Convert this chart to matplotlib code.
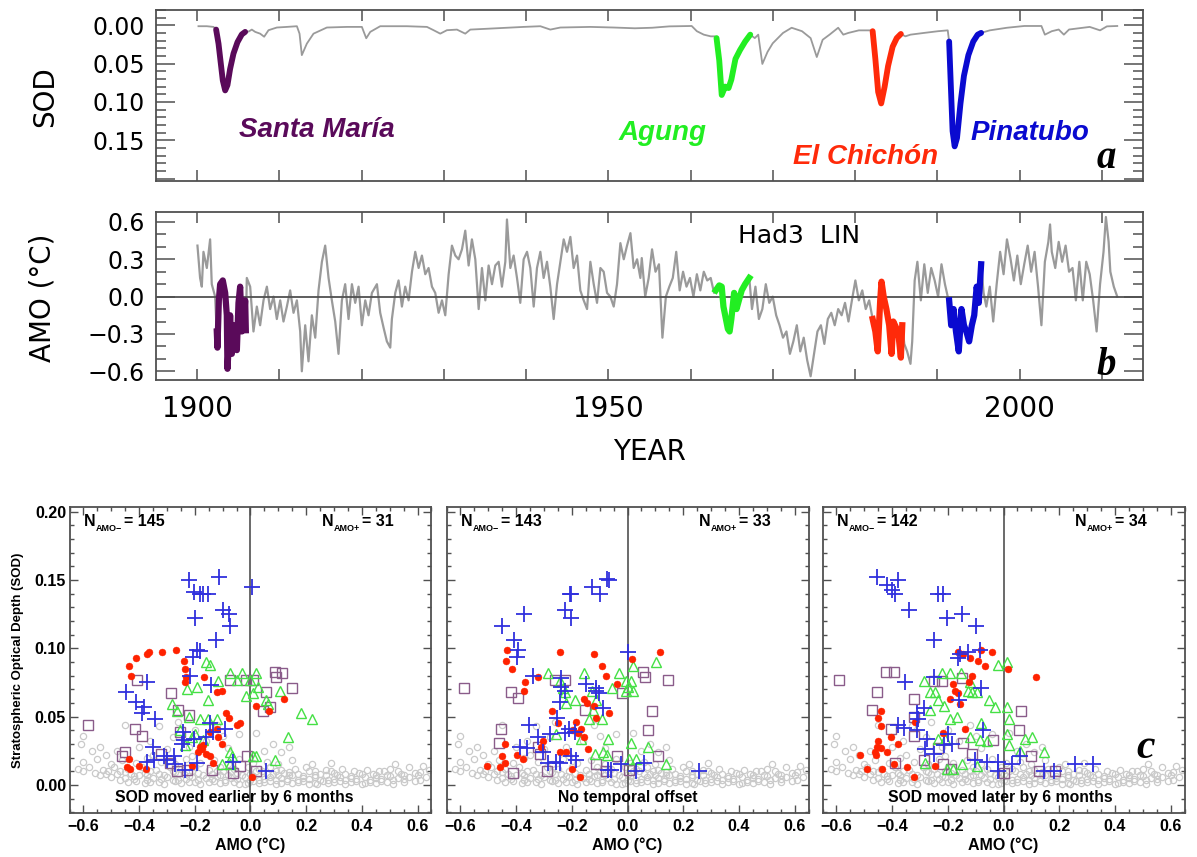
import matplotlib
matplotlib.use('Agg')
import matplotlib.pyplot as plt
import numpy as np
from matplotlib.ticker import MultipleLocator, FuncFormatter
from matplotlib.transforms import offset_copy

# ---------------- data: panel a (SOD) ----------------
sod_gray = [(1900.16, 0.0013), (1901.18, 0.0013), (1901.99, 0.0022),
            (1906.25, 0.0083), (1906.65, 0.0057), (1907.06, 0.0087), (1907.66, 0.011), (1908.15, 0.015),
            (1908.68, 0.0065), (1909.69, 0.003), (1910.91, 0.0022), (1912.13, 0.0013), (1912.45, 0.011),
            (1912.73, 0.039), (1913.34, 0.024), (1914.15, 0.011), (1915.77, 0.003), (1918.21, 0.0022),
            (1920.03, 0.0022), (1920.56, 0.017), (1921.05, 0.0087), (1922.26, 0.0013), (1925.51, 0.0013),
            (1927.94, 0.0022), (1928.75, 0.0065), (1929.56, 0.011), (1930.37, 0.0065), (1931.59, 0.0057),
            (1932.60, 0.011), (1933.21, 0.0057), (1935.64, 0.0044), (1939.70, 0.0022), (1941.73, 0.0013),
            (1942.94, 0.0057), (1944.16, 0.003), (1947.81, 0.0022), (1950.65, 0.003), (1953.22, 0.004),
            (1955.31, 0.0033), (1957.41, 0.0015), (1960.13, 0.001), (1960.76, 0.0078), (1961.60, 0.0123),
            (1962.44, 0.0145), (1962.94, 0.0145),
            (1967.80, 0.0168), (1968.22, 0.0123), (1968.72, 0.0505), (1969.35, 0.0348), (1969.98, 0.0236),
            (1971.23, 0.0101), (1972.28, 0.0033), (1973.54, 0.0078), (1974.59, 0.0168), (1975.34, 0.0415),
            (1976.05, 0.019), (1976.89, 0.0123), (1977.94, 0.0033), (1978.56, 0.0123), (1979.19, 0.010),
            (1980.45, 0.0067), (1981.92, 0.0067),
            (1986.11, 0.0145), (1986.73, 0.0123), (1988.41, 0.010), (1990.09, 0.0078), (1991.26, 0.0067),
            (1996.37, 0.0067), (1998.46, 0.0033), (2000.56, 0.001), (2002.65, 0.001), (2003.07, 0.0123),
            (2003.91, 0.0078), (2004.75, 0.0056), (2005.38, 0.0123), (2006.01, 0.0056), (2008.52, 0.0022),
            (2009.78, 0.0067), (2010.61, 0.0015), (2011.87, 0.001)]

sod_santa = [(1902.31, 0.0057), (1902.60, 0.024), (1902.88, 0.050), (1903.12, 0.072), (1903.41, 0.085),
             (1903.69, 0.078), (1904.01, 0.057), (1904.42, 0.037), (1904.91, 0.022), (1905.43, 0.012),
             (1905.84, 0.0087)]
sod_agung = [(1963.15, 0.0168), (1963.48, 0.046), (1963.78, 0.091), (1964.20, 0.080), (1964.61, 0.082),
             (1964.95, 0.071), (1965.45, 0.044), (1966.00, 0.0325), (1966.63, 0.0213), (1967.25, 0.0123)]
sod_chichon = [(1982.13, 0.0078), (1982.46, 0.044), (1982.80, 0.087), (1983.17, 0.102), (1983.59, 0.080),
               (1984.01, 0.053), (1984.56, 0.028), (1985.06, 0.0168), (1985.56, 0.0114)]
sod_pinatubo = [(1991.43, 0.0213), (1991.64, 0.080), (1991.85, 0.138), (1992.10, 0.158), (1992.39, 0.147),
                (1992.81, 0.102), (1993.23, 0.066), (1993.77, 0.039), (1994.36, 0.0213), (1994.90, 0.0123),
                (1995.32, 0.010)]

# ---------------- data: panel b (AMO) ----------------
amo_gray = [(1900.04, 0.41), (1900.36, 0.15), (1900.57, 0.08), (1900.77, 0.36), (1901.18, 0.23), (1901.58, 0.46),
            (1901.78, 0.10), (1902.19, 0.00),
            (1906.04, 0.15), (1906.45, 0.08), (1906.85, -0.28), (1907.26, -0.08), (1907.66, -0.23), (1908.07, -0.03),
            (1908.48, 0.08), (1908.88, -0.10), (1909.29, 0.00), (1909.69, -0.18), (1910.10, -0.03), (1910.50, -0.20),
            (1910.91, -0.08), (1911.31, 0.05), (1911.72, -0.13), (1912.13, -0.03), (1912.53, -0.28), (1912.73, -0.60),
            (1913.14, -0.23), (1913.54, -0.52), (1913.95, -0.15), (1914.36, -0.33), (1914.76, 0.05), (1915.17, 0.28),
            (1915.57, 0.41), (1915.98, 0.15), (1916.38, -0.03), (1916.79, -0.20), (1917.19, -0.46), (1917.60, -0.03),
            (1918.00, 0.10), (1918.41, -0.18), (1918.82, 0.10), (1919.22, -0.05), (1919.63, 0.08), (1920.03, -0.23),
            (1920.44, -0.03), (1920.84, -0.15), (1921.25, 0.03), (1921.86, 0.10), (1922.26, -0.13), (1922.67, -0.25),
            (1923.07, -0.36), (1923.48, -0.41), (1923.68, -0.18), (1924.09, 0.03), (1924.49, 0.13), (1924.90, -0.08),
            (1925.30, 0.08), (1925.71, -0.03), (1926.12, 0.20), (1926.52, 0.36), (1926.93, 0.23), (1927.33, 0.33),
            (1927.74, 0.18), (1928.14, 0.23), (1928.55, 0.08), (1928.95, 0.03), (1929.36, -0.13), (1929.77, -0.03),
            (1930.17, -0.15), (1930.58, 0.18), (1930.98, 0.41), (1931.39, 0.33), (1931.79, 0.30), (1932.20, 0.38),
            (1932.60, 0.53), (1933.01, 0.25), (1933.41, 0.46), (1933.82, 0.30), (1934.23, -0.10), (1934.63, 0.23),
            (1935.04, -0.03), (1935.44, 0.25), (1935.85, 0.10), (1936.25, 0.25), (1936.66, 0.28), (1937.06, 0.08),
            (1937.47, 0.28), (1937.67, 0.62), (1938.08, 0.23), (1938.48, 0.33), (1938.89, 0.15), (1939.29, -0.05),
            (1939.70, 0.30), (1940.11, 0.36), (1940.51, 0.23), (1940.92, -0.08), (1941.32, 0.23), (1941.73, 0.36),
            (1942.13, 0.15), (1942.54, 0.28), (1942.94, 0.08), (1943.35, -0.18), (1943.76, 0.10), (1944.16, 0.28),
            (1944.57, 0.46), (1944.97, 0.36), (1945.38, 0.48), (1945.78, 0.23), (1946.19, 0.33), (1946.59, 0.05),
            (1947.00, -0.03), (1947.41, -0.10), (1947.81, 0.28), (1948.22, 0.10), (1948.62, -0.05), (1949.03, 0.23),
            (1949.43, 0.20), (1949.84, 0.03), (1950.24, 0.00), (1950.65, -0.08), (1951.05, 0.10), (1951.46, 0.43),
            (1951.87, 0.30), (1952.27, 0.41), (1952.68, 0.51), (1953.08, 0.23), (1953.49, 0.30), (1953.89, 0.15),
            (1954.06, 0.31), (1954.48, 0.00), (1954.90, 0.15), (1955.31, 0.38), (1955.73, 0.20), (1956.15, 0.26),
            (1956.57, -0.33), (1956.99, 0.00), (1957.41, 0.08), (1957.83, 0.15), (1958.25, 0.36), (1958.67, 0.05),
            (1959.08, 0.20), (1959.50, 0.08), (1959.92, 0.15), (1960.34, 0.00), (1960.76, 0.18), (1961.18, 0.05),
            (1961.60, 0.20), (1962.02, 0.13), (1962.44, 0.15), (1962.85, 0.03),
            (1967.46, -0.10), (1967.88, 0.08), (1968.30, -0.18), (1968.72, -0.10), (1969.14, 0.10), (1969.56, -0.05),
            (1969.98, 0.00), (1970.40, -0.15), (1970.81, -0.23), (1971.23, -0.33), (1971.65, -0.28), (1972.07, -0.46),
            (1972.49, -0.36), (1972.91, -0.23), (1973.33, -0.44), (1973.75, -0.33), (1974.17, -0.51), (1974.59, -0.64),
            (1975.00, -0.46), (1975.42, -0.28), (1975.84, -0.23), (1976.26, -0.38), (1976.68, -0.18), (1977.10, -0.13),
            (1977.52, -0.23), (1977.94, -0.10), (1978.36, -0.15), (1978.77, -0.05), (1979.19, -0.20), (1979.61, -0.03),
            (1980.03, 0.13), (1980.45, -0.03), (1980.87, 0.05), (1981.29, -0.10), (1981.71, -0.03),
            (1985.98, -0.38), (1986.32, -0.44), (1986.73, -0.54), (1986.94, -0.36), (1987.24, 0.13), (1987.57, 0.28),
            (1987.99, -0.03), (1988.41, 0.26), (1988.83, 0.03), (1989.25, 0.23), (1989.67, 0.13), (1990.09, 0.00),
            (1990.50, 0.26), (1990.92, 0.10), (1991.26, 0.00),
            (1995.62, 0.03), (1995.95, -0.08), (1996.37, 0.08), (1996.79, -0.20), (1997.21, 0.10), (1997.63, 0.36),
            (1998.05, 0.18), (1998.46, 0.46), (1998.88, 0.31), (1999.30, 0.13), (1999.72, 0.33), (2000.14, 0.10),
            (2000.56, 0.26), (2000.98, 0.41), (2001.40, 0.20), (2001.82, 0.36), (2002.24, 0.08), (2002.65, -0.23),
            (2003.07, 0.28), (2003.49, 0.44), (2003.70, 0.58), (2003.91, 0.36), (2004.33, 0.23), (2004.75, 0.44),
            (2005.17, 0.28), (2005.59, 0.41), (2006.01, 0.20), (2006.43, 0.23), (2006.84, -0.03), (2007.26, 0.28),
            (2007.68, -0.03), (2008.10, 0.28), (2008.52, 0.18), (2008.94, -0.03), (2009.36, -0.28), (2009.78, 0.10),
            (2010.20, 0.36), (2010.49, 0.64), (2010.82, 0.44), (2011.03, 0.20), (2011.45, 0.08), (2011.87, 0.00)]

amo_santa = [(1902.39, -0.28), (1902.47, -0.41), (1902.64, -0.03), (1902.80, 0.10), (1903.12, 0.13), (1903.41, 0.03),
             (1903.61, -0.15), (1903.69, -0.58), (1903.89, -0.33), (1904.01, -0.15), (1904.22, -0.46), (1904.42, -0.23),
             (1904.62, -0.28), (1904.83, -0.43), (1905.03, -0.05), (1905.23, 0.08), (1905.43, -0.28), (1905.64, -0.25),
             (1905.84, -0.03), (1905.92, -0.27)]
amo_agung = [(1963.06, 0.05), (1963.48, 0.09), (1963.78, 0.08), (1963.99, -0.08), (1964.20, -0.15), (1964.53, -0.26),
             (1964.74, -0.28), (1964.95, -0.18), (1965.29, 0.03), (1965.58, -0.10), (1965.87, -0.03), (1966.21, 0.05),
             (1966.63, 0.10), (1967.13, 0.15)]
amo_chichon = [(1982.13, -0.18), (1982.46, -0.28), (1982.75, -0.44), (1983.05, -0.03), (1983.21, 0.12), (1983.47, 0.00),
               (1983.80, -0.10), (1984.14, -0.23), (1984.43, -0.46), (1984.64, -0.20), (1985.06, -0.26), (1985.31, -0.33),
               (1985.56, -0.49), (1985.73, -0.23)]
amo_pinatubo = [(1991.43, -0.03), (1991.68, -0.23), (1991.97, -0.10), (1992.26, -0.28), (1992.60, -0.44), (1992.93, -0.10),
                (1993.23, -0.23), (1993.52, -0.28), (1993.86, -0.36), (1994.19, -0.23), (1994.48, -0.15), (1994.78, 0.08),
                (1995.03, -0.05), (1995.32, 0.26)]

volcano_names = ['Santa María', 'Agung', 'El Chichón', 'Pinatubo']
volcano_colors = ['#5a0a5a', '#22ee22', '#ff2a0a', '#0a0ad0']

# ---------------- data: panel c (scatter AMO vs SOD) ----------------
bg_pts = [(-0.41, 0.003), (-0.36, 0.002), (-0.31, 0.001), (-0.27, 0.003), (-0.22, 0.002), (-0.18, 0.001), (-0.13, 0.003),
          (-0.09, 0.002), (-0.04, 0.001), (0.01, 0.003), (0.05, 0.002), (0.09, 0.001), (0.13, 0.003), (0.17, 0.002),
          (0.21, 0.001), (0.26, 0.003), (0.30, 0.002), (0.34, 0.001), (0.38, 0.003), (0.43, 0.002), (0.47, 0.003),
          (0.51, 0.001), (-0.02, 0.0005), (0.24, 0.0008), (0.40, 0.0006),
          (-0.44, 0.002), (-0.38, 0.0015), (-0.33, 0.0025), (-0.25, 0.0015), (-0.20, 0.0025), (-0.15, 0.002),
          (-0.11, 0.0012), (-0.06, 0.0025), (-0.01, 0.0018), (0.03, 0.0012), (0.07, 0.0028), (0.11, 0.0018),
          (0.15, 0.0012), (0.19, 0.0028), (0.23, 0.0018), (0.28, 0.0012), (0.32, 0.0028), (0.36, 0.0022),
          (0.41, 0.0013), (0.45, 0.0017), (0.49, 0.0024), (0.55, 0.0022), (0.59, 0.0028),
          (-0.47, 0.004), (-0.42, 0.0045), (-0.37, 0.0038), (-0.32, 0.0042), (-0.28, 0.0036), (-0.23, 0.0045),
          (-0.19, 0.0038), (-0.14, 0.0043), (-0.09, 0.0037), (-0.05, 0.0044), (0.00, 0.0039), (0.05, 0.0045),
          (0.09, 0.0037), (0.13, 0.0044), (0.17, 0.0038), (0.21, 0.0043), (0.25, 0.0036), (0.30, 0.0044),
          (0.34, 0.0039), (0.38, 0.0045), (0.43, 0.0038), (0.47, 0.0043), (0.51, 0.0037), (0.55, 0.0044), (0.63, 0.006),
          (-0.50, 0.006), (-0.45, 0.005), (-0.40, 0.007), (-0.35, 0.005), (-0.30, 0.006), (-0.26, 0.004), (-0.21, 0.006),
          (-0.16, 0.005), (-0.11, 0.007), (-0.07, 0.005), (-0.02, 0.006), (0.03, 0.004), (0.07, 0.006), (0.11, 0.005),
          (0.15, 0.007), (0.19, 0.005), (0.23, 0.006), (0.28, 0.004), (0.32, 0.006), (0.36, 0.005), (0.41, 0.006),
          (0.45, 0.005), (0.49, 0.007), (0.53, 0.005), (0.57, 0.006), (0.61, 0.004),
          (-0.54, 0.0072), (-0.48, 0.0078), (-0.42, 0.0068), (-0.37, 0.0075), (-0.31, 0.0071), (-0.26, 0.0077),
          (-0.22, 0.0069), (-0.17, 0.0074), (-0.12, 0.0068), (-0.08, 0.0076), (-0.03, 0.0071), (0.01, 0.0066),
          (0.06, 0.0077), (0.10, 0.007), (0.14, 0.0075), (0.19, 0.0068), (0.23, 0.0076), (0.27, 0.007),
          (0.31, 0.0074), (0.36, 0.0068), (0.40, 0.0077), (0.45, 0.0071), (0.50, 0.0066), (0.55, 0.0074), (0.60, 0.007),
          (-0.56, 0.009), (-0.52, 0.008), (-0.47, 0.010), (-0.43, 0.008), (-0.38, 0.009), (-0.33, 0.008), (-0.28, 0.010),
          (-0.24, 0.008), (-0.19, 0.009), (-0.14, 0.008), (-0.10, 0.010), (-0.05, 0.009), (0.00, 0.008), (0.04, 0.010),
          (0.08, 0.008), (0.12, 0.009), (0.17, 0.008), (0.21, 0.010), (0.25, 0.008), (0.30, 0.009), (0.34, 0.008),
          (0.39, 0.009), (0.44, 0.008), (0.48, 0.010), (0.54, 0.008), (0.59, 0.009), (0.64, 0.011),
          (-0.60, 0.010), (-0.51, 0.0105), (-0.45, 0.0098), (-0.36, 0.0102), (-0.27, 0.0098), (-0.21, 0.0104),
          (-0.12, 0.0099), (-0.07, 0.0104), (0.02, 0.0101), (0.09, 0.0104), (0.14, 0.0098), (0.23, 0.0104),
          (0.29, 0.0099), (0.37, 0.0103), (0.46, 0.0099), (0.53, 0.0103), (0.61, 0.0098),
          (-0.62, 0.012), (-0.58, 0.013), (-0.53, 0.011), (-0.49, 0.013), (-0.44, 0.012), (-0.39, 0.013), (-0.34, 0.011),
          (-0.29, 0.013), (-0.25, 0.012), (-0.20, 0.013), (-0.15, 0.011), (-0.11, 0.013), (-0.06, 0.012), (-0.01, 0.013),
          (0.03, 0.012), (0.07, 0.013), (0.11, 0.011), (0.16, 0.012), (0.20, 0.013), (0.27, 0.011), (0.33, 0.012),
          (0.42, 0.011), (0.50, 0.012), (0.57, 0.013), (0.62, 0.014),
          (-0.60, 0.017), (-0.55, 0.019), (-0.50, 0.015), (-0.46, 0.018), (-0.41, 0.016), (-0.37, 0.020), (-0.32, 0.017),
          (-0.27, 0.015), (-0.23, 0.019), (-0.18, 0.016), (-0.13, 0.018), (-0.08, 0.015), (-0.04, 0.019), (0.01, 0.016),
          (0.06, 0.017), (0.10, 0.015), (0.15, 0.018), (0.22, 0.015), (0.29, 0.016), (0.52, 0.015), (-0.52, 0.022),
          (-0.35, 0.022), (-0.21, 0.021),
          (-0.61, 0.030), (-0.60, 0.036), (-0.57, 0.025), (-0.54, 0.028), (-0.48, 0.025), (-0.45, 0.044), (-0.40, 0.028),
          (-0.33, 0.043), (-0.30, 0.026), (-0.26, 0.046), (-0.22, 0.028), (-0.20, 0.040), (-0.16, 0.032), (-0.12, 0.044),
          (-0.08, 0.027), (-0.04, 0.037), (0.02, 0.038), (0.05, 0.025), (0.08, 0.030), (0.14, 0.028), (0.11, 0.024),
          (-0.28, 0.035), (-0.36, 0.032), (-0.10, 0.036)]

# panel c1: SOD moved earlier by 6 months
c1_blue = [(-0.222, 0.150), (-0.112, 0.152), (0.004, 0.145), (-0.204, 0.141), (-0.183, 0.140), (-0.151, 0.140),
           (-0.169, 0.140), (-0.097, 0.128), (-0.076, 0.125), (-0.074, 0.116), (-0.198, 0.122), (-0.124, 0.106),
           (-0.193, 0.099), (-0.183, 0.098), (-0.207, 0.094), (-0.216, 0.080), (-0.143, 0.073), (-0.448, 0.068),
           (-0.371, 0.075), (-0.412, 0.061), (-0.383, 0.057), (-0.389, 0.053), (-0.343, 0.048), (-0.242, 0.039),
           (-0.145, 0.045), (-0.092, 0.041), (-0.133, 0.039), (-0.159, 0.035), (-0.204, 0.034), (-0.240, 0.033),
           (-0.349, 0.028), (-0.276, 0.021), (-0.311, 0.021), (-0.345, 0.018), (-0.371, 0.017), (-0.299, 0.018),
           (-0.270, 0.015), (-0.234, 0.011), (-0.193, 0.016), (-0.062, 0.017), (0.057, 0.010), (-0.246, 0.030)]
c1_red = [(-0.436, 0.087), (-0.412, 0.093), (-0.371, 0.096), (-0.365, 0.097), (-0.317, 0.097), (-0.266, 0.099),
          (-0.240, 0.091), (-0.236, 0.085), (-0.231, 0.079), (-0.234, 0.075), (-0.430, 0.080), (-0.166, 0.079),
          (-0.121, 0.068), (-0.103, 0.069), (-0.088, 0.053), (-0.076, 0.049), (-0.050, 0.044), (-0.038, 0.045),
          (0.021, 0.058), (0.067, 0.054), (0.119, 0.063), (-0.147, 0.039), (-0.181, 0.028), (-0.175, 0.026),
          (-0.159, 0.023), (-0.145, 0.021), (-0.133, 0.016), (-0.115, 0.035), (-0.103, 0.030), (-0.187, 0.024),
          (-0.210, 0.014), (-0.436, 0.019), (-0.442, 0.013), (-0.433, 0.012), (-0.400, 0.014), (-0.374, 0.012),
          (0.004, 0.006), (-0.121, 0.041), (-0.169, 0.029)]
c1_green = [(-0.159, 0.090), (-0.145, 0.088), (-0.074, 0.082), (-0.029, 0.082), (0.019, 0.082), (-0.115, 0.076),
            (-0.048, 0.077), (-0.193, 0.072), (-0.228, 0.070), (-0.002, 0.077), (0.027, 0.072), (0.105, 0.069),
            (-0.017, 0.065), (0.010, 0.067), (-0.151, 0.062), (0.057, 0.062), (0.063, 0.059), (-0.282, 0.059),
            (-0.264, 0.054), (-0.222, 0.050), (0.182, 0.053), (0.221, 0.048), (0.134, 0.035), (-0.181, 0.048),
            (-0.151, 0.048), (-0.119, 0.048), (-0.198, 0.037), (-0.210, 0.035), (-0.169, 0.033), (-0.074, 0.024),
            (-0.068, 0.021), (0.010, 0.021), (0.021, 0.021), (0.087, 0.018), (-0.074, 0.015), (-0.103, 0.015),
            (-0.234, 0.029), (-0.252, 0.040)]
c1_purple = [(-0.582, 0.044), (-0.406, 0.077), (-0.285, 0.067), (-0.260, 0.055), (-0.222, 0.051), (-0.074, 0.077),
             (-0.017, 0.077), (0.010, 0.077), (0.057, 0.068), (0.093, 0.079), (0.114, 0.082), (0.087, 0.083),
             (0.150, 0.071), (0.045, 0.054), (0.069, 0.057), (-0.416, 0.041), (-0.389, 0.036), (-0.452, 0.024),
             (-0.460, 0.021), (-0.252, 0.039), (-0.323, 0.023), (-0.264, 0.010), (-0.228, 0.011), (-0.288, 0.016),
             (-0.139, 0.011), (-0.064, 0.009), (-0.038, 0.014), (-0.014, 0.021), (0.021, 0.010)]

# panel c2: no temporal offset
c2_blue = [(-0.074, 0.151), (-0.068, 0.150), (-0.127, 0.145), (-0.097, 0.140), (-0.202, 0.140), (-0.208, 0.140),
           (-0.226, 0.128), (-0.202, 0.122), (-0.371, 0.125), (-0.451, 0.116), (-0.408, 0.106), (-0.392, 0.099),
           (-0.396, 0.094), (0.000, 0.097), (-0.339, 0.080), (-0.238, 0.078), (-0.238, 0.072), (-0.226, 0.069),
           (-0.149, 0.074), (-0.113, 0.071), (-0.103, 0.067), (-0.244, 0.061), (-0.089, 0.056), (-0.252, 0.049),
           (-0.354, 0.044), (-0.321, 0.035), (-0.210, 0.041), (-0.190, 0.039), (-0.226, 0.038), (-0.279, 0.037),
           (-0.386, 0.028), (-0.362, 0.027), (-0.303, 0.024), (-0.285, 0.016), (-0.255, 0.017), (-0.202, 0.021),
           (-0.184, 0.018), (-0.244, 0.016), (-0.071, 0.011), (-0.059, 0.011), (-0.024, 0.015), (0.030, 0.010),
           (0.059, 0.016), (0.258, 0.010), (-0.113, 0.069)]
c2_red = [(-0.434, 0.099), (-0.436, 0.091), (-0.416, 0.085), (-0.241, 0.097), (-0.122, 0.096), (-0.091, 0.087),
          (0.015, 0.092), (0.116, 0.097), (-0.077, 0.080), (-0.321, 0.079), (-0.368, 0.075), (-0.371, 0.069),
          (-0.039, 0.074), (-0.158, 0.063), (-0.146, 0.060), (-0.122, 0.058), (-0.113, 0.049), (-0.068, 0.053),
          (-0.270, 0.054), (-0.249, 0.045), (-0.184, 0.046), (-0.166, 0.041), (-0.158, 0.035), (-0.143, 0.026),
          (-0.196, 0.040), (-0.178, 0.038), (-0.440, 0.030), (-0.398, 0.022), (-0.377, 0.019), (-0.451, 0.021),
          (-0.457, 0.013), (-0.440, 0.016), (-0.505, 0.014), (-0.312, 0.028), (-0.241, 0.024), (-0.220, 0.024),
          (-0.198, 0.012), (-0.170, 0.006), (-0.303, 0.032)]
c2_green = [(-0.285, 0.082), (-0.157, 0.082), (-0.030, 0.082), (0.020, 0.087), (0.101, 0.090), (-0.241, 0.076),
            (-0.232, 0.071), (-0.226, 0.068), (-0.190, 0.062), (-0.220, 0.060), (-0.127, 0.069), (-0.056, 0.071),
            (-0.006, 0.076), (0.000, 0.072), (0.012, 0.076), (0.018, 0.069), (-0.006, 0.069), (-0.113, 0.062),
            (-0.125, 0.055), (-0.139, 0.048), (-0.091, 0.048), (-0.255, 0.037), (-0.166, 0.034), (-0.071, 0.034),
            (0.012, 0.031), (0.075, 0.028), (-0.115, 0.023), (-0.075, 0.022), (-0.089, 0.024), (0.006, 0.019),
            (0.030, 0.019), (0.139, 0.015)]
c2_purple = [(-0.586, 0.071), (-0.418, 0.068), (-0.392, 0.064), (-0.261, 0.077), (-0.226, 0.077), (-0.018, 0.067),
             (0.056, 0.083), (0.063, 0.079), (0.145, 0.077), (0.089, 0.054), (0.075, 0.040), (-0.454, 0.041),
             (-0.463, 0.031), (-0.321, 0.028), (-0.315, 0.023), (-0.410, 0.009), (-0.289, 0.010), (-0.154, 0.055),
             (-0.113, 0.015), (-0.077, 0.010), (-0.036, 0.021), (0.004, 0.011), (0.110, 0.021)]

# panel c3: SOD moved later by 6 months
c3_blue = [(-0.455, 0.152), (-0.419, 0.146), (-0.380, 0.150), (-0.401, 0.143), (-0.389, 0.140), (-0.341, 0.128),
           (-0.234, 0.140), (-0.219, 0.140), (-0.204, 0.122), (-0.150, 0.125), (-0.098, 0.116), (-0.248, 0.106),
           (-0.158, 0.096), (-0.128, 0.097), (-0.084, 0.099), (-0.162, 0.093), (-0.251, 0.079), (-0.353, 0.075),
           (-0.080, 0.071), (-0.159, 0.062), (-0.287, 0.056), (-0.308, 0.048), (-0.380, 0.044), (-0.359, 0.042),
           (-0.311, 0.040), (-0.275, 0.034), (-0.198, 0.037), (-0.072, 0.040), (-0.186, 0.030), (-0.281, 0.026),
           (-0.251, 0.023), (-0.212, 0.029), (-0.102, 0.018), (-0.060, 0.017), (-0.018, 0.017), (0.030, 0.015),
           (0.060, 0.021), (-0.018, 0.010), (0.144, 0.010), (0.180, 0.010), (0.257, 0.015), (0.323, 0.015),
           (-0.311, 0.053)]
c3_red = [(-0.162, 0.097), (-0.144, 0.096), (-0.120, 0.093), (-0.090, 0.091), (-0.068, 0.087), (-0.042, 0.097),
          (-0.080, 0.099), (0.016, 0.085), (0.116, 0.079), (-0.114, 0.080), (-0.123, 0.075), (-0.182, 0.074),
          (-0.174, 0.069), (-0.192, 0.063), (-0.162, 0.067), (-0.156, 0.059), (-0.440, 0.054), (-0.449, 0.049),
          (-0.440, 0.043), (-0.216, 0.038), (-0.140, 0.041), (-0.449, 0.032), (-0.455, 0.028), (-0.463, 0.024),
          (-0.459, 0.022), (-0.440, 0.027), (-0.419, 0.024), (-0.404, 0.035), (-0.380, 0.030), (-0.515, 0.022),
          (-0.491, 0.012), (-0.437, 0.012), (-0.395, 0.015), (-0.347, 0.013), (-0.323, 0.006), (-0.246, 0.014),
          (-0.317, 0.046)]
c3_green = [(-0.222, 0.082), (-0.192, 0.082), (-0.152, 0.082), (-0.284, 0.076), (-0.263, 0.068), (-0.246, 0.068),
            (-0.234, 0.062), (-0.212, 0.058), (-0.120, 0.075), (-0.126, 0.069), (-0.114, 0.068), (-0.096, 0.068),
            (-0.020, 0.088), (0.012, 0.090), (-0.051, 0.062), (-0.030, 0.057), (0.012, 0.057), (0.018, 0.048),
            (-0.192, 0.048), (-0.168, 0.050), (-0.080, 0.045), (-0.236, 0.034), (-0.210, 0.034), (-0.120, 0.035),
            (-0.084, 0.033), (-0.060, 0.032), (0.012, 0.037), (0.018, 0.029), (0.060, 0.025), (0.078, 0.034),
            (0.102, 0.035), (0.144, 0.024), (-0.150, 0.015), (-0.096, 0.014), (-0.281, 0.016), (-0.204, 0.012),
            (-0.180, 0.012), (-0.263, 0.055)]
c3_purple = [(-0.590, 0.077), (-0.423, 0.083), (-0.395, 0.083), (-0.455, 0.068), (-0.471, 0.055), (-0.404, 0.041),
             (-0.320, 0.063), (-0.320, 0.050), (-0.323, 0.036), (-0.251, 0.076), (-0.222, 0.076), (-0.150, 0.078),
             (0.063, 0.054), (0.054, 0.040), (-0.036, 0.033), (-0.144, 0.031), (-0.114, 0.023), (-0.284, 0.018),
             (-0.216, 0.015), (-0.188, 0.012), (0.099, 0.021), (0.000, 0.009), (0.126, 0.010), (0.186, 0.010),
             (-0.389, 0.016), (-0.234, 0.027)]

n_minus = [145, 143, 142]
n_plus = [31, 33, 34]
offset_labels = ['SOD moved earlier by 6 months', 'No temporal offset', 'SOD moved later by 6 months']

# ---------------- figure ----------------
plt.rcParams['font.family'] = 'DejaVu Sans'

W, H = 1197, 857
fig = plt.figure(figsize=(W / 100, H / 100), dpi=100)


def box(l, t, r, b):
    return [l / W, 1 - b / H, (r - l) / W, (b - t) / H]


def arr(pts):
    a = np.asarray(pts, dtype=float)
    return a[:, 0], a[:, 1]


def full_series(parts):
    a = np.concatenate([np.asarray(p, dtype=float) for p in parts])
    a = a[np.argsort(a[:, 0])]
    return a[:, 0], a[:, 1]


frame = '#505050'
ax_a = fig.add_axes(box(156, 9.5, 1143, 180.5))
ax_b = fig.add_axes(box(156, 212, 1143, 380))

for ax in (ax_a, ax_b):
    ax.set_xlim(1895, 2015)
    ax.xaxis.set_major_locator(MultipleLocator(10))
    ax.tick_params(axis='x', which='major', direction='in', length=8, width=1.1,
                   top=True, bottom=True, color=frame, labelsize=20, pad=11)
    ax.tick_params(axis='y', which='both', direction='in', left=True, right=True,
                   color=frame, width=1.1, labelsize=17, pad=8)
    ax.tick_params(axis='y', which='major', length=13.5)
    ax.tick_params(axis='y', which='minor', length=7)
    for s in ax.spines.values():
        s.set_color(frame)
        s.set_linewidth(1.3)

# panel a
yr, v = full_series([sod_gray, sod_santa, sod_agung, sod_chichon, sod_pinatubo])
ax_a.plot(yr, v, color='#9a9a9a', lw=1.3, zorder=2)
for seg, col in zip([sod_santa, sod_agung, sod_chichon, sod_pinatubo], volcano_colors):
    x, y = arr(seg)
    ax_a.plot(x, y, color=col, lw=4.2, solid_capstyle='round', solid_joinstyle='round', zorder=3)
ax_a.set_ylim(0.2025, -0.0205)
ax_a.yaxis.set_major_locator(MultipleLocator(0.05))
ax_a.yaxis.set_minor_locator(MultipleLocator(0.01))
ax_a.yaxis.set_major_formatter(FuncFormatter(lambda t, p: f'{t:.2f}' if -0.001 < t < 0.16 else ''))
ax_a.tick_params(axis='x', labelbottom=False)

label_pos = [(1914.6, 0.137), (1956.6, 0.140), (1981.3, 0.172), (2001.3, 0.140)]
for name, col, (lx, ly) in zip(volcano_names, volcano_colors, label_pos):
    ax_a.text(lx, ly, name, color=col, fontsize=20, fontweight='bold', fontstyle='italic',
              family='Liberation Sans', ha='center', va='center')
ax_a.text(2010.5, 0.174, 'a', fontsize=28, fontweight='bold', fontstyle='italic',
          family='Liberation Serif', ha='center', va='center')
fig.text(45 / W, 1 - 97 / H, 'SOD', rotation=90, fontsize=20, ha='center', va='center')

# panel b
yr, v = full_series([amo_gray, amo_santa, amo_agung, amo_chichon, amo_pinatubo])
ax_b.plot(yr, v, color='#9a9a9a', lw=1.6, zorder=2)
ax_b.axhline(0, color=frame, lw=1.3, zorder=2.5)
for seg, col in zip([amo_santa, amo_agung, amo_chichon, amo_pinatubo], volcano_colors):
    x, y = arr(seg)
    ax_b.plot(x, y, color=col, lw=4.5, solid_joinstyle='round', zorder=3)
ax_b.set_ylim(-0.67, 0.68)
ax_b.yaxis.set_major_locator(MultipleLocator(0.3))
ax_b.yaxis.set_minor_locator(MultipleLocator(0.1))
ax_b.yaxis.set_major_formatter(FuncFormatter(lambda t, p: f'{t:.1f}'.replace('-', '\u2212')))
ax_b.xaxis.set_major_formatter(FuncFormatter(lambda t, p: f'{t:.0f}' if round(t) % 50 == 0 else ''))
ax_b.text(1973.2, 0.49, 'Had3  LIN', fontsize=18, ha='center', va='center')
ax_b.text(2010.5, -0.555, 'b', fontsize=28, fontweight='bold', fontstyle='italic',
          family='Liberation Serif', ha='center', va='center')
fig.text(42 / W, 1 - 298 / H, 'AMO (\u00b0C)', rotation=90, fontsize=20, ha='center', va='center')
fig.text(649 / W, 1 - 452 / H, 'YEAR', fontsize=20, ha='center', va='center')

# panel c
lefts = [69.5, 446.5, 822.5]
panels = [(c1_blue, c1_red, c1_green, c1_purple),
          (c2_blue, c2_red, c2_green, c2_purple),
          (c3_blue, c3_red, c3_green, c3_purple)]
text_x = [-0.06, 0.0, -0.012]
bold = dict(family='Liberation Sans', fontweight='bold')


def n_label(ax, x, y, sub, val):
    ax.text(x, y, 'N', fontsize=11.5, ha='left', va='center', **bold)
    t_sub = offset_copy(ax.transData, fig=fig, x=8.6, y=-5.0, units='points')
    ax.text(x, y, sub, transform=t_sub, fontsize=6.5, ha='left', va='center', **bold)
    t_val = offset_copy(ax.transData, fig=fig, x=29.5, y=0, units='points')
    ax.text(x, y, '= %d' % val, transform=t_val, fontsize=11.5, ha='left', va='center', **bold)


for i, (left, (blue, red, green, purple)) in enumerate(zip(lefts, panels)):
    ax = fig.add_axes(box(left, 507, left + 362, 813))
    bx, by = arr(bg_pts)
    ax.plot(bx, by, 'o', ms=4.5, mfc='none', mec='#cacaca', mew=0.9, zorder=1)
    ax.axvline(0, color=frame, lw=1.2, zorder=1.5)
    x, y = arr(purple)
    ax.plot(x, y, 's', ms=6.5, mfc='none', mec='#8a5c8a', mew=1.0, zorder=2)
    x, y = arr(green)
    ax.plot(x, y, '^', ms=7.5, mfc='none', mec='#45e045', mew=1.0, zorder=3)
    x, y = arr(red)
    ax.plot(x, y, 'o', ms=5.0, mfc='#ff2200', mec='#ff2200', mew=0.3, zorder=4)
    x, y = arr(blue)
    ax.plot(x, y, '+', ms=11, mew=1.3, color='#3030dd', zorder=5)

    ax.set_xlim(-0.65, 0.65)
    ax.set_ylim(-0.0205, 0.2034)
    ax.xaxis.set_major_locator(MultipleLocator(0.2))
    ax.xaxis.set_minor_locator(MultipleLocator(0.05))
    ax.yaxis.set_major_locator(MultipleLocator(0.05))
    ax.yaxis.set_minor_locator(MultipleLocator(0.01))
    ax.xaxis.set_major_formatter(FuncFormatter(lambda t, p: f'{t:.1f}'.replace('-', '\u2212')))
    ax.yaxis.set_major_formatter(FuncFormatter(lambda t, p: f'{t:.2f}' if t > -0.001 else ''))
    ax.tick_params(which='both', direction='in', top=True, right=True, color=frame, width=1.0)
    ax.tick_params(which='major', length=5.5)
    ax.tick_params(which='minor', length=3)
    ax.tick_params(axis='x', pad=4, labelsize=11.5)
    ax.tick_params(axis='y', pad=2.5, labelsize=11.5, labelleft=(i == 0))
    for lab in ax.get_xticklabels() + ax.get_yticklabels():
        lab.set_family('Liberation Sans')
        lab.set_fontweight('bold')
    for s in ax.spines.values():
        s.set_color(frame)
        s.set_linewidth(1.3)

    n_label(ax, -0.60, 0.1925, 'AMO\u2212', n_minus[i])
    n_label(ax, 0.255, 0.1925, 'AMO+', n_plus[i])
    ax.text(text_x[i], -0.0088, offset_labels[i], fontsize=11.3, ha='center', va='center', **bold)
    ax.text(0.5, -0.105, 'AMO (\u00b0C)', transform=ax.transAxes, fontsize=11.5, ha='center', va='center', **bold)
    if i == 2:
        ax.text(0.51, 0.027, 'c', fontsize=30, fontweight='bold', fontstyle='italic',
                family='Liberation Serif', ha='center', va='center')

fig.text(18 / W, 1 - 660 / H, 'Stratospheric Optical Depth (SOD)', rotation=90,
         fontsize=9.5, ha='center', va='center', **bold)

fig.savefig('out.png', dpi=100)
